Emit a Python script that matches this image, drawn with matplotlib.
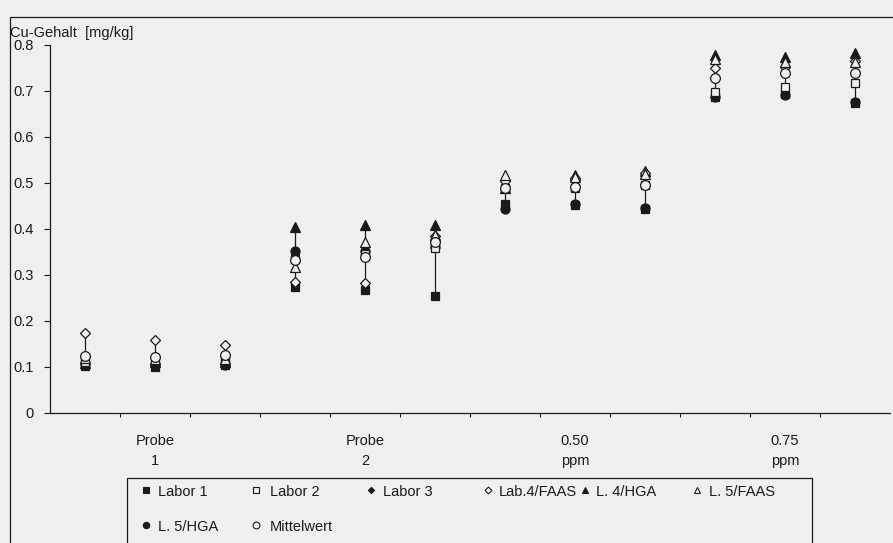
import numpy as np
import matplotlib
matplotlib.use("Agg")
from matplotlib import pyplot as plt
from matplotlib.patches import Rectangle
from matplotlib.lines import Line2D

plt.rcParams["font.family"] = ["Liberation Sans", "DejaVu Sans"]

# x positions of the 12 measurement columns (3 per sample)
positions = np.arange(1, 13)
group_labels = [("Probe", "1"), ("Probe", "2"), ("0.50", "ppm"), ("0.75", "ppm")]
group_centers = [2, 5, 8, 11]

y_ticks = [0, 0.1, 0.2, 0.3, 0.4, 0.5, 0.6, 0.7, 0.8]
y_tick_labels = ["0", "0.1", "0.2", "0.3", "0.4", "0.5", "0.6", "0.7", "0.8"]

# Cu content per lab / method [mg/kg]
labor1 = [0.103, 0.100, 0.104, 0.274, 0.268, 0.254, 0.455, 0.452, 0.443, 0.688, 0.693, 0.674]
labor2 = [0.110, 0.112, 0.115, 0.335, 0.345, 0.358, 0.490, 0.490, 0.496, 0.698, 0.709, 0.717]
labor3 = [0.105, 0.105, 0.108, 0.345, 0.350, 0.362, 0.450, 0.455, 0.446, 0.688, 0.694, 0.676]
lab4_faas = [0.175, 0.159, 0.148, 0.285, 0.283, 0.385, 0.504, 0.510, 0.522, 0.750, 0.752, 0.765]
l4_hga = [0.108, 0.110, 0.110, 0.404, 0.409, 0.409, 0.490, 0.517, 0.526, 0.778, 0.774, 0.782]
l5_faas = [0.120, 0.118, 0.118, 0.318, 0.372, 0.388, 0.517, 0.512, 0.520, 0.770, 0.762, 0.762]
l5_hga = [0.106, 0.104, 0.104, 0.352, 0.352, 0.360, 0.444, 0.455, 0.445, 0.688, 0.692, 0.676]
mittelwert = [0.125, 0.122, 0.126, 0.333, 0.340, 0.372, 0.489, 0.491, 0.496, 0.728, 0.739, 0.739]

series_names = ["Labor 1", "Labor 2", "Labor 3", "Lab.4/FAAS",
                "L. 4/HGA", "L. 5/FAAS", "L. 5/HGA", "Mittelwert"]
series_values = [labor1, labor2, labor3, lab4_faas, l4_hga, l5_faas, l5_hga, mittelwert]

bg = "#efefed"
ink = "#1a1a1a"
marker_styles = [("s", True, 6), ("s", False, 6), ("D", True, 4.5), ("D", False, 5),
                 ("^", True, 6.5), ("^", False, 6.5), ("o", True, 6.5), ("o", False, 7)]
# drawing order: small filled marks underneath
zorders = [4, 5, 2, 5, 4, 5, 3, 6]
fs = 10.5

fig = plt.figure(figsize=(8.93, 5.43), dpi=100, facecolor=bg)
W, H = 893.0, 543.0
ax = fig.add_axes([50 / W, 1 - 413 / H, (890 - 50) / W, 368 / H])
ax.set_facecolor(bg)

# range bars
data = np.array(series_values)
ax.vlines(positions, data.min(axis=0), data.max(axis=0), color=ink, lw=0.9, zorder=1)

for vals, (m, filled, ms), z in zip(series_values, marker_styles, zorders):
    ax.plot(positions, vals, linestyle="none", marker=m, ms=ms,
            markerfacecolor=ink if filled else bg, markeredgecolor=ink,
            markeredgewidth=0.9, zorder=z)

ax.set_xlim(0.5, 12.5)
ax.set_ylim(0, 0.8)
ax.set_yticks(y_ticks)
ax.set_yticklabels(y_tick_labels, fontsize=fs)
ax.set_xticks(np.arange(1.5, 12, 1))
ax.set_xticklabels([])
ax.tick_params(axis="y", direction="out", length=4, width=0.8, pad=8, colors=ink)
ax.tick_params(axis="x", direction="out", length=3, width=0.8, colors=ink)
for s in ["top", "right"]:
    ax.spines[s].set_visible(False)
for s in ["left", "bottom"]:
    ax.spines[s].set_color(ink)
    ax.spines[s].set_linewidth(0.9)

# group labels under the axis
tr = ax.get_xaxis_transform()
for xc, (l1, l2) in zip(group_centers, group_labels):
    ax.text(xc, -28 / 368, l1, transform=tr, ha="center", va="center", fontsize=fs, color=ink)
    ax.text(xc, -48 / 368, l2, transform=tr, ha="center", va="center", fontsize=fs, color=ink)

fig.text(10 / W, 1 - 33 / H, "Cu-Gehalt  [mg/kg]", ha="left", va="center", fontsize=fs, color=ink)

# outer frame and legend box
fig.patches.append(Rectangle((10 / W, -0.1), 1.2, 1 - 17 / H + 0.1, transform=fig.transFigure,
                             fill=False, ec=ink, lw=0.9))
fig.patches.append(Rectangle((127 / W, -0.1), (812 - 127) / W, 1 - 478 / H + 0.1,
                             transform=fig.transFigure, fill=False, ec=ink, lw=0.9))

# legend entries (marker x, text x, row y) in pixels
legend_slots = [(146, 158, 492), (256, 270, 492), (371, 383, 492), (488, 499, 492),
                (585, 596, 492), (697, 709, 492), (146, 158, 527), (256, 270, 527)]
for name, (m, filled, ms), (mx, tx, ty) in zip(series_names, marker_styles, legend_slots):
    fig.lines.append(Line2D([mx / W], [1 - (ty - 2) / H], transform=fig.transFigure,
                            linestyle="none", marker=m, ms=ms * 0.7,
                            markerfacecolor=ink if filled else bg, markeredgecolor=ink,
                            markeredgewidth=0.8))
    fig.text(tx / W, 1 - ty / H, name, ha="left", va="center", fontsize=fs, color=ink)

fig.savefig("out.png", dpi=100, facecolor=bg)
